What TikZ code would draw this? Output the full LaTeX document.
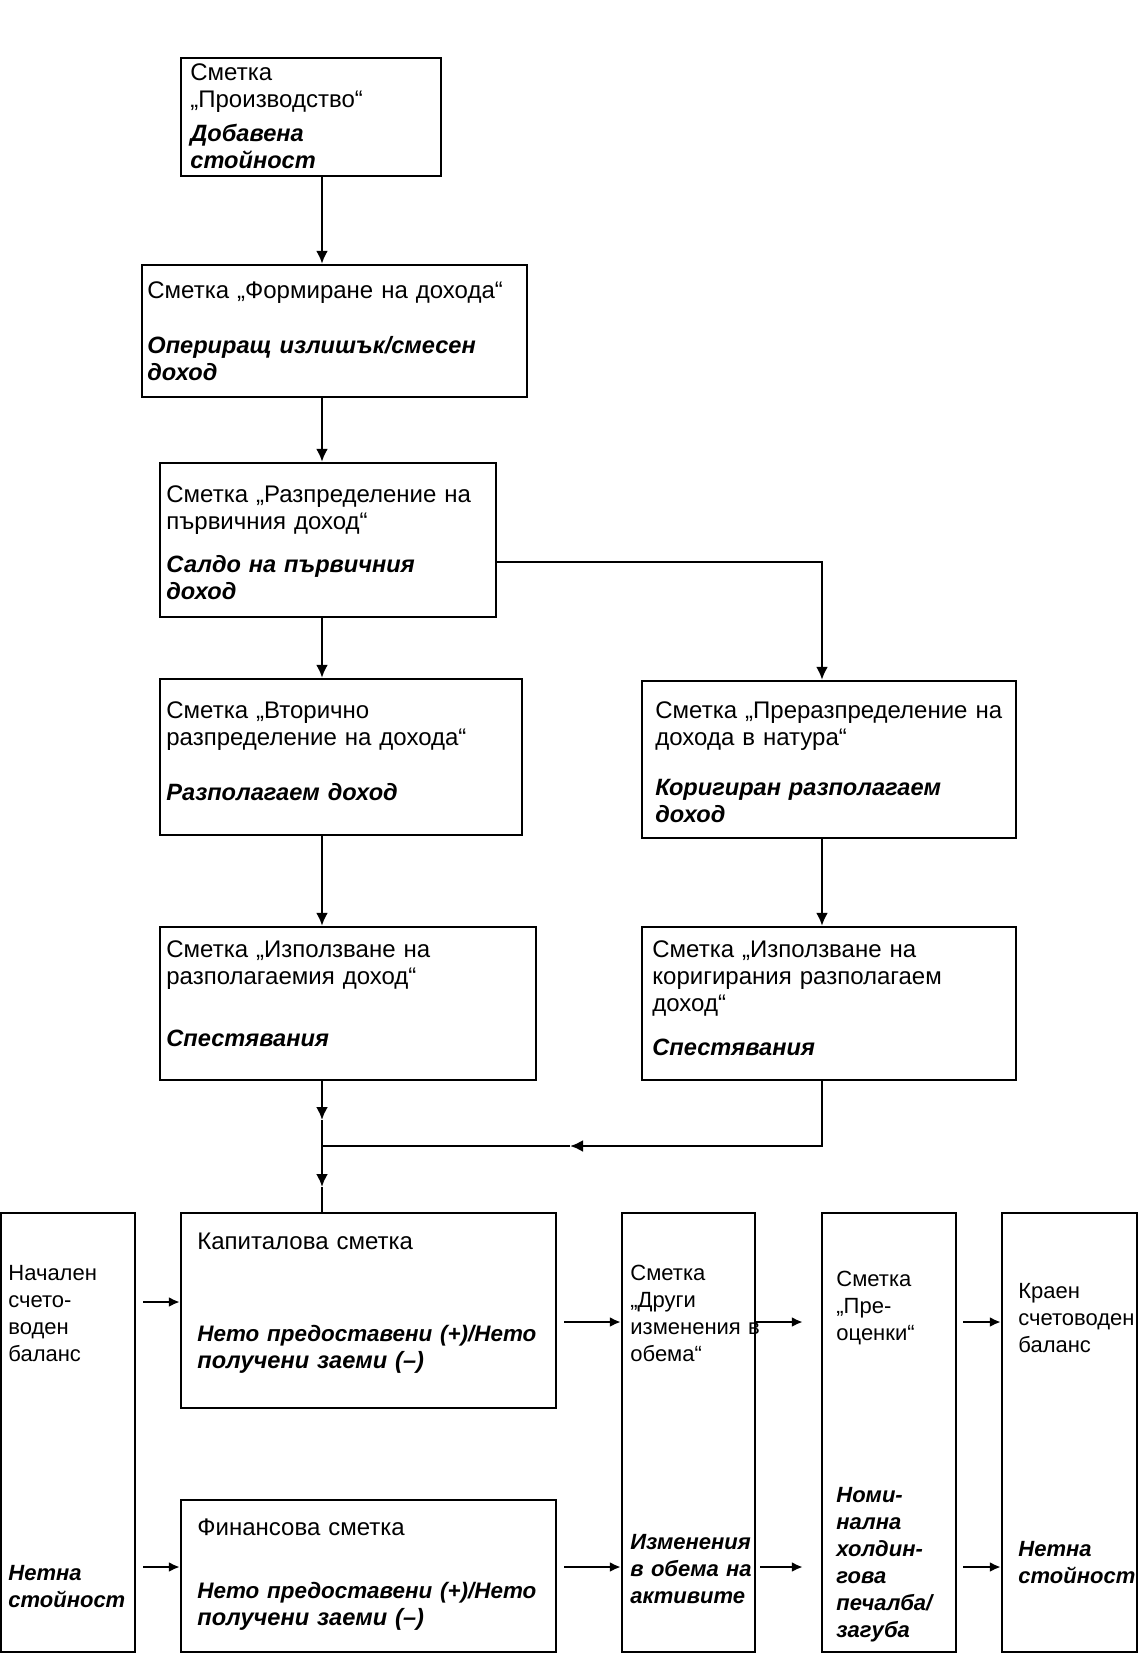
\documentclass[tikz,border=0pt]{standalone}
\usepackage{fontspec}
\setmainfont{Liberation Sans}
\usetikzlibrary{arrows.meta,calc}
\hyphenpenalty=10000
\exhyphenpenalty=10000
\begin{document}
\begin{tikzpicture}[x=0.5pt,y=-0.5pt,
  box/.style={draw=black,line width=1.2pt,inner sep=0pt,fill=white},
  txt/.style={anchor=base west,inner sep=0pt,align=left,font=\fontsize{11}{13.5}\selectfont},
  btxt/.style={txt,font=\fontsize{11}{13.5}\selectfont\bfseries\itshape},
  txtL/.style={txt,font=\fontsize{12}{13.5}\selectfont},
  btxtL/.style={txt,font=\fontsize{11.8}{13.5}\selectfont\bfseries\itshape},
  arr/.style={line width=1.2pt,-{Latex[length=6.5pt,width=6pt]}},
  sarr/.style={line width=1.2pt,-{Latex[length=5.5pt,width=5pt]}},
  ln/.style={line width=1.2pt}]
\useasboundingbox (0,0) rectangle (1138,1654);
\fill[white] (0,0) rectangle (1138,1654);

% boxes
\node[box,minimum width=130pt,minimum height=59pt] (b1) at (311,117) {};
\node[box,minimum width=192.5pt,minimum height=66pt] (b2) at (334.5,331) {};
\node[box,minimum width=168pt,minimum height=77pt] (b3) at (328,540) {};
\node[box,minimum width=181pt,minimum height=78pt] (b4) at (341,757) {};
\node[box,minimum width=187pt,minimum height=78.5pt] (b5) at (829,759.5) {};
\node[box,minimum width=188pt,minimum height=76.5pt] (b6) at (348,1003.5) {};
\node[box,minimum width=187pt,minimum height=76.5pt] (b7) at (829,1003.5) {};
\node[box,minimum width=187.5pt,minimum height=97.5pt] (cap) at (368.5,1310.5) {};
\node[box,minimum width=187.5pt,minimum height=76pt] (fin) at (368.5,1576) {};
\node[box,minimum width=67pt,minimum height=219.5pt] (nach) at (68,1432.5) {};
\node[box,minimum width=66.5pt,minimum height=219.5pt] (dr) at (688.5,1432.5) {};
\node[box,minimum width=67pt,minimum height=219.5pt] (pr) at (889,1432.5) {};
\node[box,minimum width=67.5pt,minimum height=219.5pt] (kr) at (1069.5,1432.5) {};

% texts
\node[txtL,text width=122pt] (t1) at (190,80) {Сметка\\„Производство“};
\node[btxtL,text width=122pt] (t1b) at (190,141) {Добавена\\стойност};
\node[txtL,text width=188pt] (t2) at (147,298) {Сметка „Формиране на дохода“};
\node[btxtL,text width=188pt] (t2b) at (147,353) {Опериращ излишък/смесен\\доход};
\node[txtL,text width=164pt] (t3) at (166,502) {Сметка „Разпределение на\\първичния доход“};
\node[btxtL,text width=164pt] (t3b) at (166,572) {Салдо на първичния\\доход};
\node[txtL,text width=176pt] (t4) at (166,718) {Сметка „Вторично\\разпределение на дохода“};
\node[btxtL,text width=176pt] (t4b) at (166,800) {Разполагаем доход};
\node[txtL,text width=180pt] (t5) at (655,718) {Сметка „Преразпределение на\\дохода в натура“};
\node[btxtL,text width=180pt] (t5b) at (655,795) {Коригиран разполагаем\\доход};
\node[txtL,text width=184pt] (t6) at (166,957) {Сметка „Използване на\\разполагаемия доход“};
\node[btxtL,text width=184pt] (t6b) at (166,1046) {Спестявания};
\node[txtL,text width=180pt] (t7) at (652,957) {Сметка „Използване на\\коригирания разполагаем\\доход“};
\node[btxtL,text width=180pt] (t7b) at (652,1055) {Спестявания};
\node[txtL,text width=178pt] (tc) at (197,1249) {Капиталова сметка};
\node[btxtL,text width=178pt] (tcb) at (197,1341) {{\fontsize{11.2}{13.5}\selectfont Нето предоставени (+)/Нето}\\получени заеми (–)};
\node[txtL,text width=178pt] (tf) at (197,1535) {Финансова сметка};
\node[btxtL,text width=178pt] (tfb) at (197,1598) {{\fontsize{11.2}{13.5}\selectfont Нето предоставени (+)/Нето}\\получени заеми (–)};
\node[txt,text width=62pt] (tn) at (8,1280) {Начален\\счето-\\воден\\баланс};
\node[btxt,text width=62pt] (tnb) at (8,1580) {Нетна\\стойност};
\node[txt,text width=66pt] (td) at (630,1280) {Сметка\\„Други\\изменения в\\обема“};
\node[btxt,text width=66pt] (tdb) at (630,1549) {Изменения\\в обема на\\активите};
\node[txt,text width=60pt] (tp) at (836,1286) {Сметка\\„Пре-\\оценки“};
\node[btxt,text width=60pt] (tpb) at (836,1502) {Номи-\\нална\\холдин-\\гова\\печалба/\\загуба};
\node[txt,text width=60pt] (tk) at (1018,1298) {Краен\\счетоводен\\баланс};
\node[btxt,text width=60pt] (tkb) at (1018,1556) {Нетна\\стойност};

% helper coordinates
\coordinate (cA) at (322,0);
\coordinate (cB) at (822,0);
\coordinate (y3) at (0,562);
\coordinate (j) at (322,1146);
\coordinate (m1) at (322,1120);
\coordinate (m2) at (570,1146);
\coordinate (m3) at (322,1187);
\coordinate (ya) at (0,1302);
\coordinate (yb) at (0,1567);
\coordinate (yc) at (0,1322);

% connectors
\draw[arr] (b1.south -| cA) -- (b2.north -| cA);
\draw[arr] (b2.south -| cA) -- (b3.north -| cA);
\draw[arr] (b3.south -| cA) -- (b4.north -| cA);
\draw[arr] (b3.east |- y3) -| (b5.north -| cB);
\draw[arr] (b4.south -| cA) -- (b6.north -| cA);
\draw[arr] (b5.south -| cB) -- (b7.north -| cB);
\draw[arr] (b6.south -| cA) -- (m1);
\draw[ln] (m1) -- (j);
\draw[arr] (b7.south -| cB) |- (m2);
\draw[ln] (m2) -- (j);
\draw[arr] (j) -- (m3);
\draw[ln] (m3) -- (cap.north -| cA);

\draw[sarr] ([xshift=3.5pt]nach.east |- ya) -- (cap.west |- ya);
\draw[sarr] ([xshift=3.5pt]nach.east |- yb) -- (fin.west |- yb);
\draw[sarr] ([xshift=3.5pt]cap.east |- yc) -- (dr.west |- yc);
\draw[sarr] ([xshift=3.5pt]fin.east |- yb) -- (dr.west |- yb);
\draw[sarr] (dr.east |- yc) -- ([xshift=-9pt]pr.west |- yc);
\draw[sarr] ([xshift=2pt]dr.east |- yb) -- ([xshift=-9pt]pr.west |- yb);
\draw[sarr] ([xshift=3pt]pr.east |- yc) -- (kr.west |- yc);
\draw[sarr] ([xshift=3pt]pr.east |- yb) -- (kr.west |- yb);
\end{tikzpicture}
\end{document}
